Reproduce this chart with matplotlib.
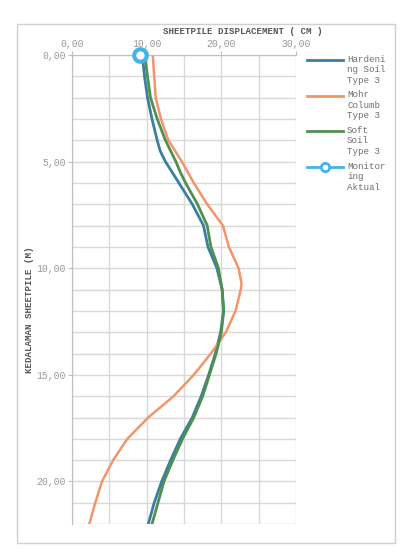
import matplotlib
matplotlib.use('Agg')
from matplotlib import pyplot as plt
from matplotlib.lines import Line2D
from matplotlib.patches import Rectangle
from matplotlib.ticker import MultipleLocator, FuncFormatter

#Depth (m) and displacement (cm)
depth = [0, 1, 2, 3, 4, 4.5, 5, 5.5, 6, 7, 8, 9, 10, 11, 12, 13, 14, 15, 16, 17, 18, 19, 20, 21, 22]
hardening_soil = [9.4, 9.7, 10.1, 10.7, 11.4, 11.8, 12.5, 13.4, 14.3, 16.1, 17.6, 18.2, 19.4, 20.1, 20.3,
                  19.9, 19.2, 18.3, 17.3, 16.1, 14.5, 13.2, 12.0, 11.0, 10.2]
soft_soil = [9.7, 10.1, 10.5, 11.4, 12.5, 13.2, 13.9, 14.5, 15.2, 16.8, 18.1, 18.6, 19.6, 20.1, 20.3,
             20.0, 19.3, 18.4, 17.5, 16.3, 14.8, 13.5, 12.3, 11.5, 10.7]
mohr_depth = [0, 1, 2, 3, 4, 5, 6, 7, 8, 8.5, 9, 10, 10.7, 11, 12, 13, 14, 15, 16, 17, 18, 19, 20, 21, 22]
mohr_columb = [10.8, 11.0, 11.2, 11.9, 12.9, 14.7, 16.3, 18.1, 20.2, 20.6, 21.0, 22.3, 22.7, 22.6,
               21.9, 20.6, 18.6, 16.3, 13.6, 10.2, 7.4, 5.5, 4.0, 3.1, 2.3]
monitoring_depth = [0]
monitoring = [9.1]

labels = ['Hardeni\nng Soil\nType 3', 'Mohr\nColumb\nType 3', 'Soft\nSoil\nType 3', 'Monitor\ning\nAktual']
c_blue = '#3b7ea1'
c_orange = '#f2956a'
c_green = '#4f8f50'
c_mon = '#45b3e3'

font = 'Liberation Mono'
plt.rcParams['font.family'] = [font, 'DejaVu Sans']

fig = plt.figure(figsize=(4.12, 5.60), dpi=100)
fig.patches.append(Rectangle((0.041, 0.030), 0.918, 0.927, transform=fig.transFigure,
                             fill=False, edgecolor='#d0d0d0', linewidth=1))
ax = fig.add_axes([0.175, 0.064, 0.5435, 0.838])

ax.plot(hardening_soil, depth, color=c_blue, lw=2)
ax.plot(mohr_columb, mohr_depth, color=c_orange, lw=1.8)
ax.plot(soft_soil, depth, color=c_green, lw=2)
ax.plot(monitoring, monitoring_depth, color=c_mon, lw=2, marker='o', ms=9, mew=3,
        mfc='white', mec=c_mon, clip_on=False, zorder=5)

ax.set_xlim(0, 30)
ax.set_ylim(22, 0)
ax.xaxis.tick_top()
ax.xaxis.set_major_locator(MultipleLocator(10))
ax.xaxis.set_minor_locator(MultipleLocator(5))
ax.yaxis.set_major_locator(MultipleLocator(5))
ax.yaxis.set_minor_locator(MultipleLocator(1))
fmt = FuncFormatter(lambda v, p: ('%.2f' % v).replace('.', ','))
ax.xaxis.set_major_formatter(fmt)
ax.yaxis.set_major_formatter(fmt)
ax.grid(True, which='both', color='#d9d9d9', lw=1)
ax.set_axisbelow(True)
ax.tick_params(which='major', length=3, color='#bfbfbf', labelsize=7, labelcolor='#999999', pad=1.5)
ax.tick_params(which='minor', length=0)
for s in ['right', 'bottom']:
    ax.spines[s].set_visible(False)
for s in ['left', 'top']:
    ax.spines[s].set_color('#bfbfbf')

fig.text(243 / 412, 1 - 32 / 560, 'SHEETPILE DISPLACEMENT ( CM )', ha='center', va='center',
         fontsize=6.6, fontweight='bold', color='#555555')
fig.text(30 / 412, 1 - 310 / 560, 'KEDALAMAN SHEETPILE (M)', ha='center', va='center',
         rotation=90, fontsize=6.6, fontweight='bold', color='#555555')

#Legend drawn by hand so the line sits on the first text row
colors = [c_blue, c_orange, c_green, c_mon]
tops = [60, 95.5, 131, 167]
for lab, col, ty in zip(labels, colors, tops):
    yy = 1 - ty / 560
    fig.add_artist(Line2D([307 / 412, 343 / 412], [yy, yy], color=col, lw=2))
    if col == c_mon:
        fig.add_artist(Line2D([325 / 412], [yy], marker='o', ms=6, mew=2, mfc='white', mec=col))
    fig.text(347 / 412, yy + 0.009, lab, ha='left', va='top', fontsize=6.6, color='#6e6e6e',
             linespacing=1.2)

plt.savefig('out.png', dpi=100)
